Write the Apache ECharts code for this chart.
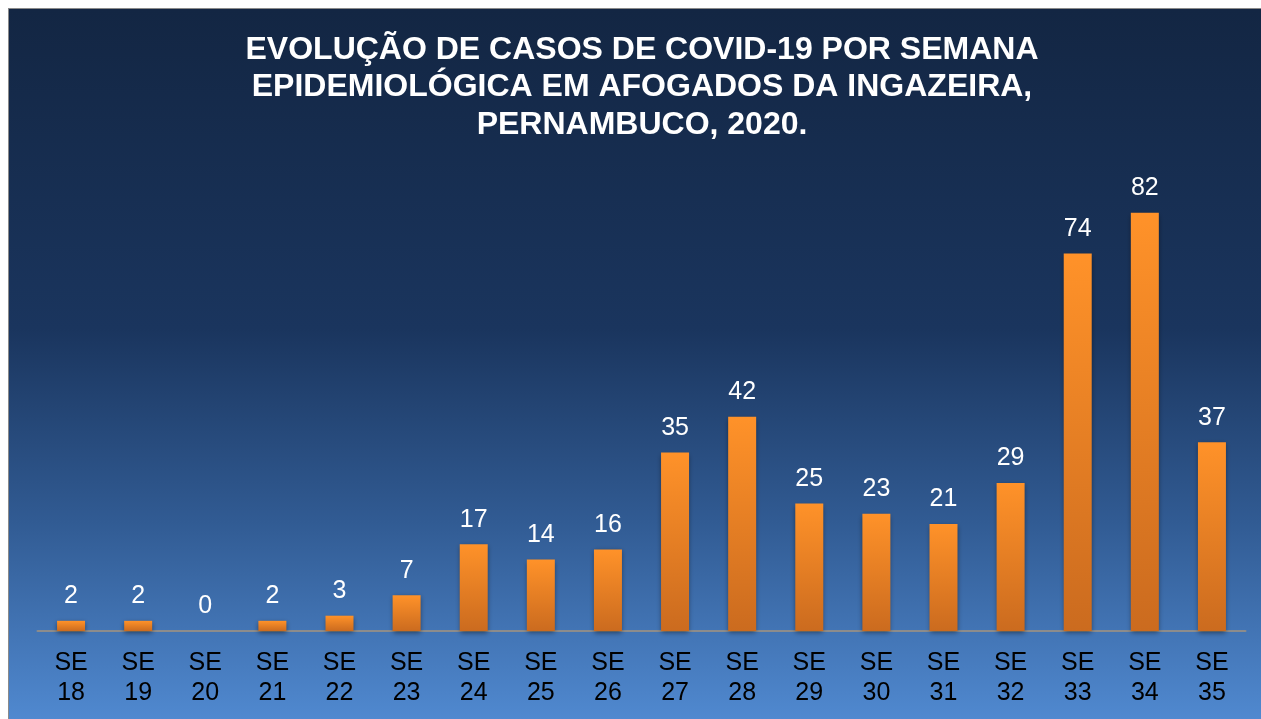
<!DOCTYPE html>
<html>
<head>
<meta charset="utf-8">
<script src="https://cdn.jsdelivr.net/npm/echarts@6/dist/echarts.min.js"></script>
<style>
  html, body { margin: 0; padding: 0; background: #fff; }
  #chart {
    position: absolute;
    left: 8px;
    top: 8px;
    width: 1253px;
    height: 711px;
    border-top: 1px solid #8a8a8a;
    border-left: 1px solid #8a8a8a;
  }
</style>
</head>
<body>
<div id="chart"></div>
<script>
// semanas epidemiológicas e casos
const weeks = ['SE 18', 'SE 19', 'SE 20', 'SE 21', 'SE 22', 'SE 23', 'SE 24', 'SE 25', 'SE 26',
  'SE 27', 'SE 28', 'SE 29', 'SE 30', 'SE 31', 'SE 32', 'SE 33', 'SE 34', 'SE 35'];
const cases = [2, 2, 0, 2, 3, 7, 17, 14, 16, 35, 42, 25, 23, 21, 29, 74, 82, 37];
const titleText = 'EVOLUÇÃO DE CASOS DE COVID-19 POR SEMANA\nEPIDEMIOLÓGICA EM AFOGADOS DA INGAZEIRA,\nPERNAMBUCO, 2020.';

const chart = echarts.init(document.getElementById('chart'));

const option = {
  backgroundColor: new echarts.graphic.LinearGradient(0, 0, 0, 1, [
    { offset: 0, color: '#132643' },
    { offset: 0.45, color: '#1a355e' },
    { offset: 0.72, color: '#315b93' },
    { offset: 1, color: '#5089d0' }
  ]),
  textStyle: { fontFamily: 'Liberation Sans, Arial, sans-serif' },
  title: {
    text: titleText,
    left: 633,
    top: 22,
    padding: 0,
    textAlign: 'center',
    textStyle: {
      color: '#fff',
      fontSize: 32,
      fontWeight: 'bold',
      lineHeight: 37.5
    }
  },
  grid: { left: 28.5, right: 16.5, top: 163, bottom: 89 },
  xAxis: {
    type: 'category',
    data: weeks,
    axisLine: { lineStyle: { color: '#8c8c8c', width: 2 } },
    axisTick: { show: false },
    axisLabel: {
      interval: 0,
      margin: 17,
      color: '#000',
      fontSize: 25,
      lineHeight: 30,
      formatter: (v) => v.replace(' ', '\n')
    }
  },
  yAxis: {
    type: 'value',
    min: 0,
    max: 90,
    show: false,
    splitLine: { show: false }
  },
  series: [
    {
      type: 'bar',
      data: cases,
      barWidth: 28,
      itemStyle: {
        color: new echarts.graphic.LinearGradient(0, 0, 0, 1, [
          { offset: 0, color: '#ff9229' },
          { offset: 1, color: '#cb6b1f' }
        ]),
        shadowColor: 'rgba(0,0,0,0.45)',
        shadowBlur: 5,
        shadowOffsetY: 2
      },
      label: {
        show: true,
        position: 'top',
        distance: 12,
        color: '#fff',
        fontSize: 25
      }
    }
  ]
};

chart.setOption(option);
</script>
</body>
</html>
